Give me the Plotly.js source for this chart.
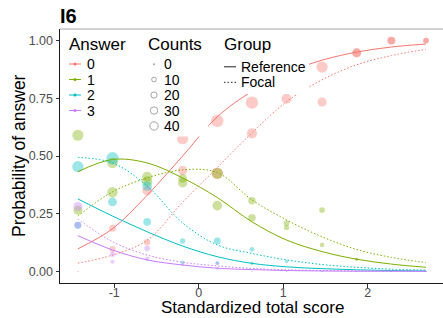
<!DOCTYPE html>
<html><head><meta charset="utf-8">
<script src="https://cdn.plot.ly/plotly-3.0.1.min.js"></script>
<style>html,body{margin:0;padding:0;background:#fff}#chart{width:443px;height:318px}</style>
</head><body><div id="chart"></div>
<script>
// ---------- data ----------
const scoreX = [-1.43,-1.02,-0.61,-0.19,0.22,0.63,1.04,1.46,1.87,2.28,2.69];
const answers = ['0','1','2','3'];
const groups = ['Reference','Focal'];

// observed proportions, Reference group
const refP0 = [0, 0.187, 0.35, 0.575, 0.652, 0.731, 0.748, 0.885, 0.947, 1, 1];
const refP1 = [0.59, 0.471, 0.39, 0.384, 0.285, 0.233, 0.209, 0.115, 0.053, 0, 0];
const refP2 = [0.20, 0.301, 0.215, 0.04, 0.036, 0.035, 0.043, 0, 0, 0, 0];
const refP3 = [0.20, 0.042, 0.055, 0, 0.036, 0, 0, 0, 0, 0, 0];
// observed counts, Reference group (estimated from point sizes)
const refC0 = [0, 27, 56, 79, 98, 98, 62, 79, 47, 35, 16];
const refC1 = [77, 70, 62, 53, 55, 31, 17, 10, 3, 0, 0];
const refC2 = [26, 46, 34, 5, 5, 5, 4, 0, 0, 0, 0];
const refC3 = [26, 7, 9, 0, 5, 0, 0, 0, 0, 0, 0];

// observed proportions, Focal group
const focP0 = [0, 0.097, 0.127, 0.437, 0.425, 0.598, 0.81, 0.734, 0.947, 1, 1];
const focP1 = [0.265, 0.343, 0.41, 0.403, 0.425, 0.306, 0.19, 0.266, 0.053, 0, 0];
const focP2 = [0.454, 0.49, 0.37, 0.132, 0.132, 0.096, 0, 0, 0, 0, 0];
const focP3 = [0.281, 0.074, 0.10, 0.03, 0.014, 0, 0, 0, 0, 0, 0];
// observed counts, Focal group (estimated from point sizes)
const focC0 = [0, 20, 20, 48, 79, 62, 64, 48, 47, 35, 16];
const focC1 = [46, 68, 62, 44, 79, 31, 14, 17, 3, 0, 0];
const focC2 = [79, 98, 56, 14, 25, 10, 0, 0, 0, 0, 0];
const focC3 = [49, 14, 16, 4, 3, 0, 0, 0, 0, 0, 0];

// fitted curves (at the score columns)
const curveX = [-1.43,-1.02,-0.61,-0.19,0.22,0.63,1.04,1.46,1.87,2.28,2.69];
const refFit0 = [0.098, 0.185, 0.33, 0.50, 0.67, 0.78, 0.86, 0.915, 0.95, 0.972, 0.985];
const refFit1 = [0.432, 0.485, 0.47, 0.405, 0.32, 0.215, 0.136, 0.086, 0.053, 0.032, 0.018];
const refFit2 = [0.314, 0.24, 0.172, 0.11, 0.064, 0.035, 0.02, 0.012, 0.007, 0.004, 0.002];
const refFit3 = [0.155, 0.093, 0.05, 0.028, 0.014, 0.008, 0.004, 0.002, 0.001, 0.001, 0.0005];
const focFit0 = [0.036, 0.071, 0.135, 0.30, 0.45, 0.60, 0.735, 0.83, 0.895, 0.935, 0.962];
const focFit1 = [0.24, 0.345, 0.405, 0.44, 0.428, 0.31, 0.223, 0.15, 0.095, 0.061, 0.038];
const focFit2 = [0.494, 0.47, 0.37, 0.21, 0.115, 0.078, 0.05, 0.03, 0.018, 0.01, 0.006];
const focFit3 = [0.227, 0.129, 0.071, 0.04, 0.024, 0.013, 0.007, 0.004, 0.002, 0.001, 0.001];

// axis ticks & legend entries
const xTickVals = [-1, 0, 1, 2];
const xTickText = ['-1', '0', '1', '2'];
const yTickVals = [0, 0.25, 0.5, 0.75, 1];
const yTickText = ['0.00', '0.25', '0.50', '0.75', '1.00'];
const countBreaks = [0, 10, 20, 30, 40];

// ---------- style ----------
const colors = ['#F8766D', '#7CAE00', '#00BFC4', '#C77CFF'];
const alphaColors = ['rgba(248,118,109,0.55)', 'rgba(124,174,0,0.55)', 'rgba(0,191,196,0.55)', 'rgba(199,124,255,0.55)'];
const FONT = 'Liberation Sans, Arial, Helvetica, sans-serif';
const sizeOf = c => 1.1 + 1.14 * Math.sqrt(c);

const W = 443, H = 318, L = 60, R = 0, T = 29, B = 35;
const px = v => (v - L) / (W - L - R);
const py = v => (H - B - v) / (H - T - B);

const refP = [refP0, refP1, refP2, refP3], refC = [refC0, refC1, refC2, refC3];
const focP = [focP0, focP1, focP2, focP3], focC = [focC0, focC1, focC2, focC3];
const refFit = [refFit0, refFit1, refFit2, refFit3], focFit = [focFit0, focFit1, focFit2, focFit3];

const traces = [];
[[refP, refC, 'Reference'], [focP, focC, 'Focal']].forEach(([P, C, g]) => {
  answers.forEach((a, i) => {
    traces.push({
      type: 'scatter', mode: 'markers', x: scoreX, y: P[i],
      name: a + ' ' + g, showlegend: false, hoverinfo: 'skip',
      marker: { color: alphaColors[i], size: C[i].map(sizeOf), line: { width: 0 } }
    });
  });
});
[[refFit, 'solid', 'Reference'], [focFit, '1.5px,2px', 'Focal']].forEach(([F, dash, g]) => {
  answers.forEach((a, i) => {
    traces.push({
      type: 'scatter', mode: 'lines', x: curveX, y: F[i],
      name: a + ' ' + g + ' fit', showlegend: false, hoverinfo: 'skip',
      line: { color: colors[i], width: 1, dash: dash, shape: 'spline', smoothing: 1 }
    });
  });
});

// ---------- manual ggplot-style legends ----------
const shapes = [
  { type: 'line', xref: 'paper', yref: 'paper', x0: 0, x1: 1, y0: 1, y1: 1, line: { color: '#A6A6A6', width: 1 }, layer: 'above' },
  { type: 'rect', xref: 'paper', yref: 'paper', x0: px(61), x1: px(132), y0: py(30), y1: py(121), fillcolor: '#fff', line: { width: 0 }, layer: 'above' },
  { type: 'rect', xref: 'paper', yref: 'paper', x0: px(140), x1: px(208), y0: py(30), y1: py(136.5), fillcolor: '#fff', line: { width: 0 }, layer: 'above' },
  { type: 'rect', xref: 'paper', yref: 'paper', x0: px(217), x1: px(309), y0: py(30), y1: py(94), fillcolor: '#fff', line: { width: 0 }, layer: 'above' }
];
const annotations = [];
const ann = (text, x, y, size) => annotations.push({
  text, xref: 'paper', yref: 'paper', x: px(x), y: py(y), xanchor: 'left', yanchor: 'middle',
  showarrow: false, font: { family: FONT, size, color: '#000' }
});
ann('Answer', 67, 44.5, 17);
ann('Counts', 146, 44.5, 17);
ann('Group', 222, 44.5, 17);
const ansY = [64, 79.5, 95, 110.5];
answers.forEach((a, i) => {
  shapes.push({ type: 'line', xref: 'paper', yref: 'paper', x0: px(69), x1: px(81), y0: py(ansY[i]), y1: py(ansY[i]), line: { color: colors[i], width: 1 }, layer: 'above' });
  shapes.push({ type: 'circle', xref: 'paper', yref: 'paper', x0: px(73.5), x1: px(76.5), y0: py(ansY[i] + 1.5), y1: py(ansY[i] - 1.5), fillcolor: colors[i], line: { width: 0 }, layer: 'above' });
  ann(a, 85, ansY[i], 14);
});
const cntY = [64.3, 79.5, 95, 110.5, 126];
countBreaks.forEach((c, i) => {
  const r = sizeOf(c) / 2;
  if (c === 0) {
    shapes.push({ type: 'circle', xref: 'paper', yref: 'paper', x0: px(154 - 1), x1: px(154 + 1), y0: py(cntY[i] + 1), y1: py(cntY[i] - 1), fillcolor: '#A0A0A0', line: { width: 0 }, layer: 'above' });
  } else {
    shapes.push({ type: 'circle', xref: 'paper', yref: 'paper', x0: px(154 - r), x1: px(154 + r), y0: py(cntY[i] + r), y1: py(cntY[i] - r), fillcolor: 'rgba(0,0,0,0)', line: { color: '#9A9A9A', width: 0.9 }, layer: 'above' });
  }
  ann(String(c), 162, cntY[i], 14);
});
const grpY = [66.8, 82.3];
groups.forEach((g, i) => {
  shapes.push({ type: 'line', xref: 'paper', yref: 'paper', x0: px(224), x1: px(236), y0: py(grpY[i]), y1: py(grpY[i]), line: { color: '#222', width: 1, dash: i === 0 ? 'solid' : '1.5px,2px' }, layer: 'above' });
  ann(g, 238.5, grpY[i], 14);
});
// axis titles, placed like the reference
annotations.push({
  text: 'Probability of answer', xref: 'paper', yref: 'paper', x: px(19), y: py(156), xanchor: 'center', yanchor: 'middle',
  textangle: -90, showarrow: false, font: { family: FONT, size: 17.5, color: '#000' }
});
annotations.push({
  text: 'Standardized total score', xref: 'paper', yref: 'paper', x: px(252.5), y: py(317.5), xanchor: 'center', yanchor: 'bottom',
  borderpad: 0, showarrow: false, font: { family: FONT, size: 17, color: '#000' }
});

const layout = {
  width: W, height: H,
  margin: { l: L, r: R, t: T, b: B, pad: 0 },
  paper_bgcolor: '#fff', plot_bgcolor: '#fff',
  showlegend: false,
  title: { text: '<b>I6</b>', font: { family: FONT, size: 20, color: '#000' }, xref: 'container', x: 60 / W, xanchor: 'left', yref: 'container', y: 1 - 16 / H, yanchor: 'middle' },
  xaxis: {
    range: [-1.6414, 2.891], tickvals: xTickVals, ticktext: xTickText,
    showgrid: false, zeroline: false, showline: true, linecolor: '#1a1a1a', linewidth: 1,
    ticks: 'outside', ticklen: 3.5, tickcolor: '#333', tickwidth: 1, ticklabelstandoff: -6,
    tickfont: { family: FONT, size: 12.5, color: '#4D4D4D' }
  },
  yaxis: {
    range: [-0.05, 1.05], tickvals: yTickVals, ticktext: yTickText,
    showgrid: false, zeroline: false, showline: true, linecolor: '#1a1a1a', linewidth: 1,
    ticks: 'outside', ticklen: 3.5, tickcolor: '#333', tickwidth: 1,
    tickfont: { family: FONT, size: 12.5, color: '#4D4D4D' }
  },
  shapes, annotations
};
Plotly.newPlot('chart', traces, layout, { staticPlot: true, displayModeBar: false });
</script>
</body></html>
